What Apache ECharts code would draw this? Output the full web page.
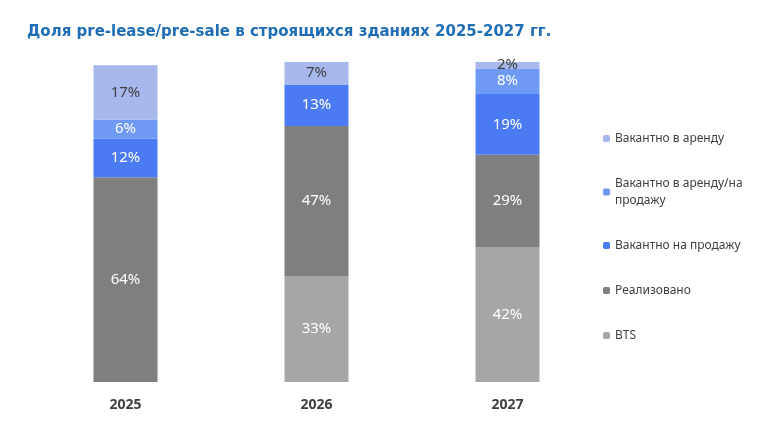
<!DOCTYPE html>
<html>
<head>
<meta charset="utf-8">
<script src="https://cdn.jsdelivr.net/npm/echarts@6/dist/echarts.min.js"></script>
<style>html,body{margin:0;padding:0;background:#fff}#chart{width:778px;height:422px}</style>
</head>
<body>
<div id="chart"></div>
<script>
const years = ["2025", "2026", "2027"];
const bts = [0, 33, 42];
const sold = [64, 47, 29];
const vacantSale = [12, 13, 19];
const vacantBoth = [6, 0, 8];
const vacantRent = [17, 7, 2];

const chart = echarts.init(document.getElementById("chart"));
function mk(name, data, color, labelColor) {
  return {
    name, type: "bar", stack: "s", data, barWidth: 64,
    itemStyle: { color },
    label: {
      show: true, color: labelColor, fontSize: 15, fontFamily: "Noto Sans",
      formatter: (p) => (p.value ? p.value + "%" : "")
    }
  };
}
chart.setOption({
  title: {
    text: "Доля pre-lease/pre-sale в строящихся зданиях 2025-2027 гг.",
    left: 22, top: 20,
    textStyle: { color: "#1f6db4", fontSize: 15, fontWeight: "bold", fontFamily: "DejaVu Sans" }
  },
  grid: { left: 30, right: 175, top: 62, bottom: 40 },
  xAxis: {
    type: "category", data: years,
    axisLine: { show: false }, axisTick: { show: false },
    axisLabel: { color: "#404040", fontWeight: "bold", fontSize: 14, margin: 16, fontFamily: "Noto Sans" }
  },
  yAxis: { type: "value", min: 0, max: 100, show: false, splitLine: { show: false } },
  legend: {
    orient: "vertical", left: 598, top: 125, itemWidth: 7, itemHeight: 7, itemGap: 28,
    data: ["Вакантно в аренду", "Вакантно в аренду/на продажу", "Вакантно на продажу", "Реализовано", "BTS"],
    formatter: (n) => n === "Вакантно в аренду/на продажу" ? "Вакантно в аренду/на\nпродажу" : n,
    textStyle: { color: "#404040", fontSize: 12, lineHeight: 17, fontFamily: "Noto Sans" }
  },
  series: [
    mk("BTS", bts, "#a6a6a6", "#fff"),
    mk("Реализовано", sold, "#7f7f7f", "#fff"),
    mk("Вакантно на продажу", vacantSale, "#4a7bf2", "#fff"),
    mk("Вакантно в аренду/на продажу", vacantBoth, "#6e9af6", "#fff"),
    mk("Вакантно в аренду", vacantRent, "#a8b8ec", "#404040")
  ]
});
</script>
</body>
</html>
